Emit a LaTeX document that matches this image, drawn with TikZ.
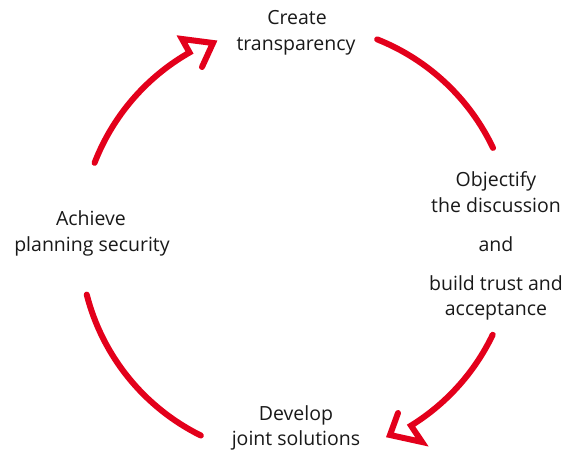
\documentclass[tikz,border=0pt]{standalone}
\usepackage{fontspec}
\setmainfont{Open Sans}
\usetikzlibrary{calc}
\definecolor{sred}{RGB}{227,0,27}
\definecolor{txt}{RGB}{25,25,25}
\begin{document}
\begin{tikzpicture}[x=1pt,y=1pt,
  lbl/.style={font=\fontsize{19.5}{26}\selectfont, anchor=base, inner sep=0pt, text=txt},
  cyc/.style={draw=sred, line width=6pt, line cap=round, line join=miter}]
\useasboundingbox (0,0) rectangle (569,451);
% labels
\node[lbl] (t1) at (297,426) {Create};
\node[lbl] (t2) at (296,400) {transparency};
\node[lbl] (l1) at (91,226) {Achieve};
\node[lbl] (l2) at (92,200) {planning security};
\node[lbl] (r1) at (496,265) {Objectify};
\node[lbl] (r2) at (496,239) {the discussion};
\node[lbl] (r3) at (496,200) {and};
\node[lbl] (r4) at (496,161) {build trust and};
\node[lbl] (r5) at (496,136) {acceptance};
\node[lbl] (b1) at (296,31) {Develop};
\node[lbl] (b2) at (296,6) {joint solutions};
% cycle
\coordinate (O) at (297,210);
\coordinate (s1) at ($(O)+(68.3:217)$);
\coordinate (s2) at ($(O)+(-25.6:217)$);
\coordinate (s3) at ($(O)+(243.7:217)$);
\coordinate (s4) at ($(O)+(158.9:217)$);
\coordinate (h2a) at (422,9);
\coordinate (h2t) at (390,16);
\coordinate (h2b) at (398,38);
\coordinate (h4a) at (182,412);
\coordinate (h4t) at (213,408);
\coordinate (h4b) at (202,384);
\draw[cyc] (s1) arc[start angle=68.3, end angle=25.4, radius=217];
\draw[cyc] (s2) arc[start angle=-25.6, end angle=-58.3, radius=217] -- (h2a) -- (h2t) -- (h2b);
\draw[cyc] (s3) arc[start angle=243.7, end angle=194.3, radius=217];
\draw[cyc] (s4) arc[start angle=158.9, end angle=119.7, radius=217] -- (h4a) -- (h4t) -- (h4b);
\end{tikzpicture}
\end{document}
